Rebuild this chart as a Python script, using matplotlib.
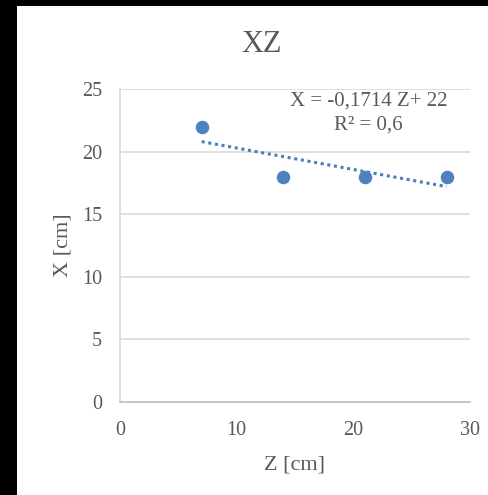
import matplotlib
matplotlib.use("Agg")
import matplotlib.pyplot as plt
import numpy as np

z_cm = [7, 14, 21, 28]
x_cm = [22, 18, 18, 18]
x_ticks = [0, 10, 20, 30]
y_ticks = [0, 5, 10, 15, 20, 25]

plt.rcParams['font.family'] = ['Liberation Serif', 'DejaVu Serif']
txt = '#595959'
blue = '#4F81BD'

fig = plt.figure(figsize=(4.88, 4.95), dpi=100, facecolor='black')
# white chart area inside black frame
fig.patches.append(plt.Rectangle((17 / 488, 0), 1, 1 - 6 / 495, transform=fig.transFigure,
                                 facecolor='white', edgecolor='none', zorder=-5))

ax = fig.add_axes([120 / 488, 1 - 402 / 495, 350 / 488, 313 / 495])
ax.set_xlim(0, 30)
ax.set_ylim(0, 25)
ax.set_xticks(x_ticks)
ax.set_yticks(y_ticks)
ax.grid(axis='y', color='#D9D9D9', linewidth=1.2)
ax.set_axisbelow(True)
for s in ['top', 'right']:
    ax.spines[s].set_visible(False)
ax.spines['left'].set_color('#D9D9D9')
ax.spines['bottom'].set_color('#BFBFBF')
ax.spines['left'].set_linewidth(1.2)
ax.spines['bottom'].set_linewidth(1.2)
ax.tick_params(length=0, labelsize=14.5, colors=txt, pad=13)
ax.tick_params(axis='x', pad=14)

# trendline (linear least squares)
slope, icpt = np.polyfit(z_cm, x_cm, 1)
zz = np.array([min(z_cm), max(z_cm)])
ax.plot(zz, slope * zz + icpt, linestyle=(0, (1, 1.2)), color='#4A7EBB', linewidth=2.2, zorder=2)
ax.scatter(z_cm, x_cm, s=95, color=blue, zorder=3, linewidths=0)

ax.text(21.3, 24.0, 'X = -0,1714 Z+ 22', ha='center', va='center', fontsize=15, color=txt)
ax.text(21.3, 22.1, 'R² = 0,6', ha='center', va='center', fontsize=15, color=txt)

ax.set_xlabel('Z [cm]', fontsize=16, color=txt, labelpad=11)
ax.set_ylabel('X [cm]', fontsize=16, color=txt, labelpad=7)
fig.text(262 / 488, 1 - 45 / 495, 'XZ', ha='center', va='center', fontsize=22, color=txt)

fig.savefig('out.png', dpi=100, facecolor='black')
